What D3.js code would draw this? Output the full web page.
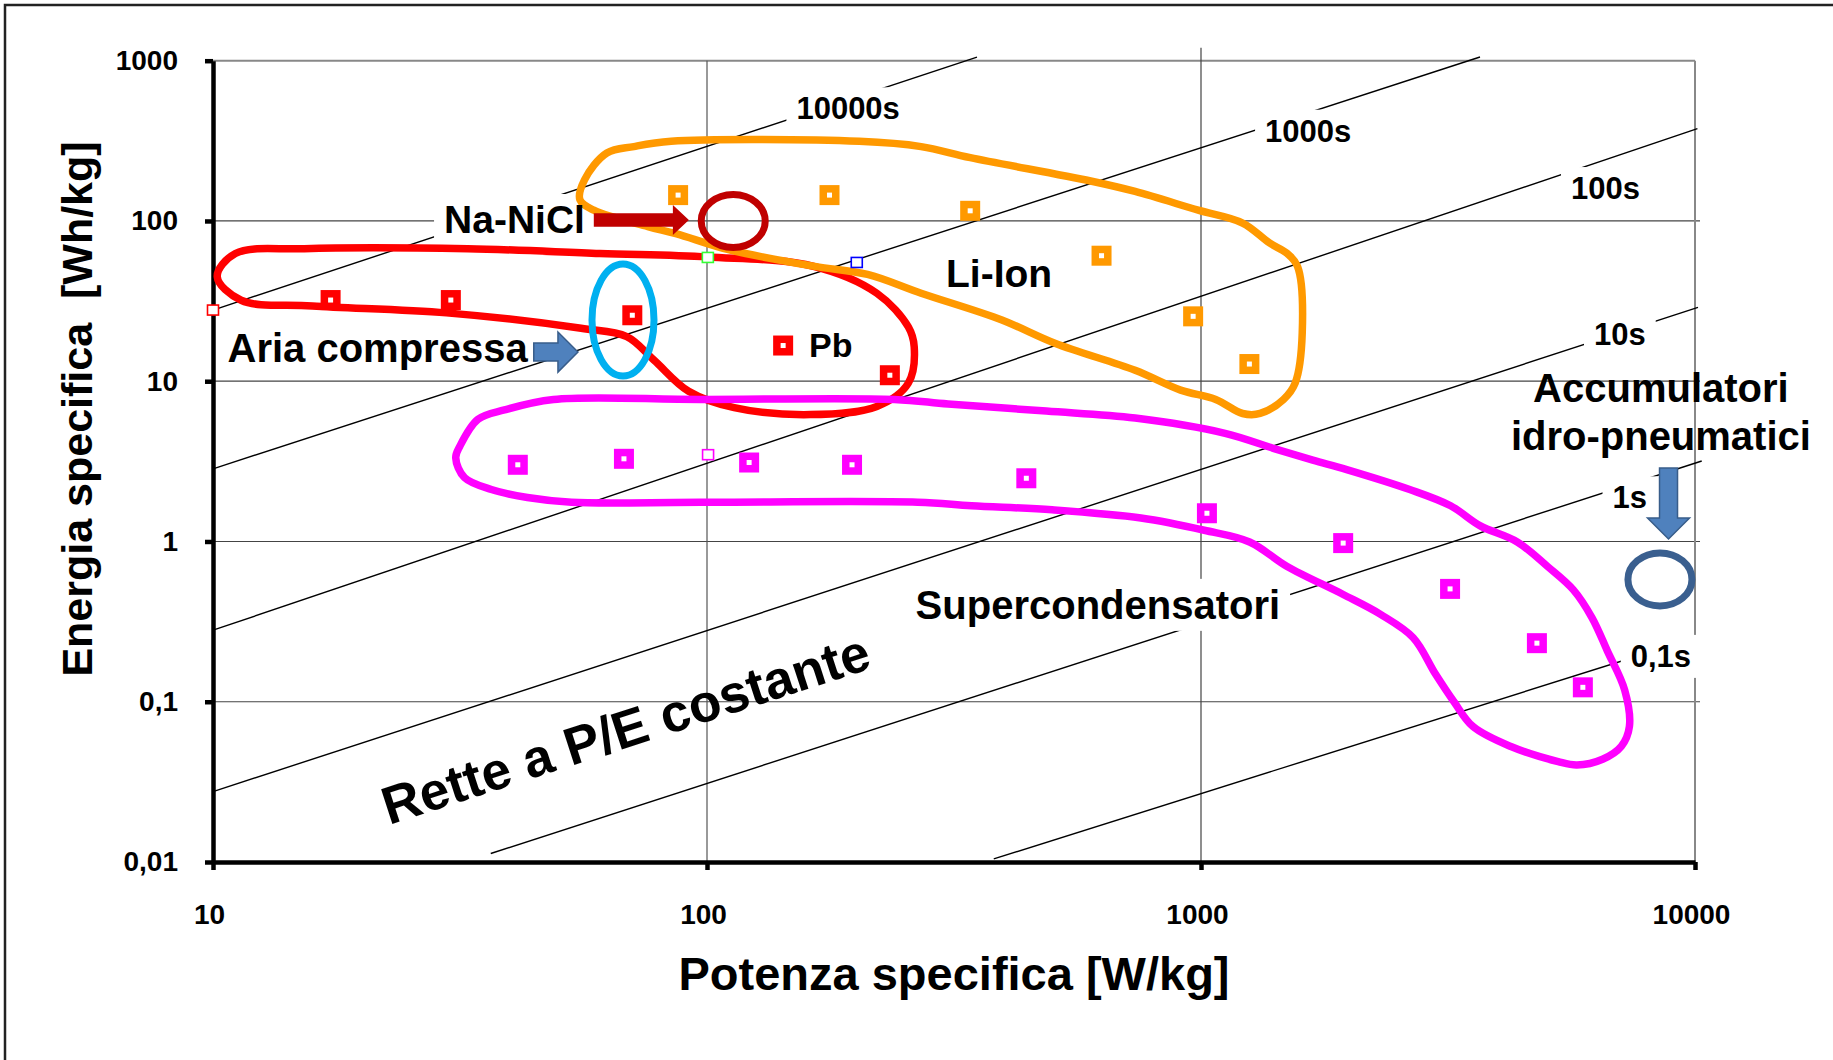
<!DOCTYPE html>
<html>
<head>
<meta charset="utf-8">
<script src="https://cdn.jsdelivr.net/npm/d3@7"></script>
<style>
  body { margin: 0; background: #fff; }
  text { font-family: "Liberation Sans", Arial, sans-serif; font-weight: bold; fill: #000; }
</style>
</head>
<body>
<script>
// ---- data (P in W/kg, E in Wh/kg) ----
const xTicks = [10, 100, 1000, 10000];
const yTicks = [0.01, 0.1, 1, 10, 100, 1000];

const pbPoints = [[17.3, 32.1], [30.3, 32.1], [70.6, 25.8], [142.6, 16.7], [234.5, 10.9]];
const liIonPoints = [[87.4, 145], [177, 145], [341, 115.7], [629, 60.7], [964, 25.4], [1253, 12.8]];
const superCapPoints = [[41.4, 3.01], [67.9, 3.28], [121.7, 3.11], [196.6, 3.01], [443, 2.48],
    [1028, 1.50], [1940, 0.977], [3193, 0.506], [4786, 0.232], [5929, 0.123]];
const hollowPoints = [[10, 27.8], [100.4, 59.2], [201, 55.1], [100.5, 3.48]];

const pbOutline = [[10.2, 44.9], [11.1, 62.7], [15.3, 67.1], [32.8, 67.1], [60.7, 62.7], [100.2, 59.6],
    [164.4, 52.1], [220.7, 35.4], [255.6, 21.8], [262.7, 16.4], [255.6, 9.73], [220.7, 6.96], [161.8, 6.19],
    [113.5, 6.84], [91.8, 8.66], [78.0, 13.6], [68.8, 19.0], [55.6, 21.4], [29.7, 26.7], [15.9, 29.5], [11.4, 32.0]];
const liIonOutline = [[55.3, 135.7], [56.5, 180.5], [62.7, 265.6], [71.1, 291.2], [84.6, 314.1], [203.4, 314],
    [271.3, 291], [341.2, 248.3], [597.8, 177.5], [735.6, 152.7], [987, 116.7], [1214, 97.0], [1376, 72.9],
    [1494, 62.7], [1568, 52.1], [1603, 20.0], [1551, 9.73], [1469, 7.70], [1317, 6.29], [1214, 6.29],
    [1071, 7.70], [909.5, 8.80], [735.6, 11.7], [507.7, 17.2], [395.3, 24.1], [271.3, 35.4], [211.3, 46.4],
    [165.3, 52.1], [111.1, 65.9], [86.5, 83.4], [75.9, 92.3], [59.0, 116.7]];
const superCapOutline = [[31.0, 3.33], [31.6, 3.93], [34.4, 5.79], [38.9, 6.62], [48.9, 7.70], [97.0, 7.70],
    [239.4, 7.70], [307.7, 7.20], [486.3, 6.51], [735.6, 5.89], [1119, 4.73], [1406, 3.80], [1684, 3.22],
    [1972, 2.81], [2645, 2.11], [3201, 1.67], [3668, 1.256], [4367, 0.993], [5030, 0.698], [5673, 0.499],
    [6189, 0.334], [6642, 0.2085], [7207, 0.1179], [7366, 0.0701], [7092, 0.0527], [6500, 0.0438],
    [5766, 0.0403], [5284, 0.0423], [4227, 0.0527], [3551, 0.0701], [3254, 0.0997], [2983, 0.149],
    [2689, 0.251], [2309, 0.351], [1940, 0.467], [1494, 0.698], [1254, 0.993], [1015, 1.175], [755.8, 1.401],
    [499.5, 1.576], [343.1, 1.67], [267.0, 1.757], [97.0, 1.757], [53.2, 1.757], [43.3, 1.88], [36.6, 2.11], [32.3, 2.50]];

// constant P/E lines: start and end points
const peLines = [
    [[10, 27.8], [352, 1054]],
    [[10, 2.84], [3671, 1054]],
    [[10, 0.2795], [10113, 377]],
    [[10, 0.0275], [10140, 28.9]],
    [[36.5, 0.0113], [10318, 3.18]],
    [[380.6, 0.01045], [10000, 0.25]]
];
const peLabels = ["10000s", "1000s", "100s", "10s", "1s", "0,1s"];
const peLabelPos = [[151.7, 430.7], [1348, 312.4], [5610, 137], [6245, 16.8], [6808, 1.61], [7413, 0.165]];

const naNiClCircle = [113, 100];
const ariaEllipse = [67.6, 24.1];
const accumEllipse = [8492, 0.58];
const naNiClArrow = [[59, 101.4], [91.9, 101.4]];
const ariaArrow = [[44.6, 15.2], [54.8, 15.2]];
const accumArrow = [[8839, 2.87], [8839, 1.036]];

const regionLabels = ["Li-Ion", "Pb", "Aria compressa"];
const regionLabelPos = [[304.7, 38.9], [160.9, 14.1], [10.7, 13.2]];

// ---- setup ----
const W = 1833, H = 1060;
const svg = d3.select("body").append("svg").attr("width", W).attr("height", H);

const x = d3.scaleLog().domain([10, 10000]).range([213, 1695]);
const y = d3.scaleLog().domain([0.01, 1000]).range([862, 60.7]);

const gFrame = svg.append("g");
const gGrid = svg.append("g");
const gLines = svg.append("g");
const gBoxes = svg.append("g");
const gAxes = svg.append("g");
const gBlobs = svg.append("g");
const gMarks = svg.append("g");
const gShapes = svg.append("g");
const gText = svg.append("g");

// outer frame (runs past the right/bottom edges)
gFrame.append("rect").attr("x", 5).attr("y", 5).attr("width", W + 100).attr("height", H + 100)
    .attr("fill", "none").attr("stroke", "#222").attr("stroke-width", 2.5);

// gridlines
[0.1, 1, 10, 100].forEach(v => {
    gGrid.append("line").attr("x1", x(10)).attr("x2", x(10000) + 5)
        .attr("y1", y(v)).attr("y2", y(v)).attr("stroke", "#444").attr("stroke-width", 1.2);
});
gGrid.append("line").attr("x1", x(10)).attr("x2", x(10000))
    .attr("y1", y(1000)).attr("y2", y(1000)).attr("stroke", "#888").attr("stroke-width", 2);
gGrid.append("line").attr("x1", x(100)).attr("x2", x(100))
    .attr("y1", y(1000)).attr("y2", y(0.01)).attr("stroke", "#555").attr("stroke-width", 1.2);
gGrid.append("line").attr("x1", x(1000)).attr("x2", x(1000))
    .attr("y1", y(1000) - 13).attr("y2", y(0.01)).attr("stroke", "#444").attr("stroke-width", 1.2);
gGrid.append("line").attr("x1", x(10000)).attr("x2", x(10000))
    .attr("y1", y(1000)).attr("y2", y(0.01)).attr("stroke", "#888").attr("stroke-width", 2);

// constant P/E lines
const seg = d3.line().x(d => x(d[0])).y(d => y(d[1]));
gLines.selectAll("path").data(peLines).join("path")
    .attr("d", seg).attr("fill", "none").attr("stroke", "#000").attr("stroke-width", 1.4);

// labels with white boxes
function label(pos, txt, size, anchor, boxed) {
    const t = gText.append("text")
        .attr("x", x(pos[0])).attr("y", y(pos[1]))
        .attr("text-anchor", anchor)
        .style("font-size", size + "px")
        .text(txt);
    if (boxed) {
        const bb = t.node().getBBox();
        gBoxes.append("rect")
            .attr("x", bb.x - 10).attr("y", bb.y - 4)
            .attr("width", bb.width + 20).attr("height", bb.height + 8)
            .attr("fill", "#fff");
    }
    return t;
}

peLabels.forEach((s, i) => label(peLabelPos[i], s, 31, "start", true));
label([264.4, 0.329], "Supercondensatori", 40, "start", true);
label([56.6, 84.1], "Na-NiCl", 39, "end", true);
label(regionLabelPos[0], regionLabels[0], 39, "start", false);
label(regionLabelPos[1], regionLabels[1], 34, "start", false);
label(regionLabelPos[2], regionLabels[2], 40, "start", false);

const acc = gText.append("text").attr("x", x(8531)).attr("y", y(7.45))
    .attr("text-anchor", "middle").style("font-size", "40px");
acc.append("tspan").attr("x", x(8531)).text("Accumulatori");
acc.append("tspan").attr("x", x(8531)).attr("dy", 48).text("idro-pneumatici");

gText.append("text")
    .attr("transform", `translate(${x(22.7)},${y(0.0170)}) rotate(-18)`)
    .style("font-size", "53px")
    .text("Rette a P/E costante");

// axes
const fmt = d => String(d).replace(".", ",");
const yAxis = gAxes.append("g").attr("transform", `translate(${x(10)},0)`)
    .call(d3.axisLeft(y).tickValues(yTicks).tickFormat(fmt).tickSize(8).tickSizeOuter(0).tickPadding(27));
const xAxis = gAxes.append("g").attr("transform", `translate(0,${y(0.01)})`)
    .call(d3.axisBottom(x).tickValues(xTicks).tickFormat(fmt).tickSize(8).tickSizeOuter(0).tickPadding(34));
[yAxis, xAxis].forEach(a => {
    a.select(".domain").attr("stroke", "#000").attr("stroke-width", 4.5);
    a.selectAll(".tick line").attr("stroke", "#000").attr("stroke-width", 4.5);
    a.selectAll(".tick text").style("font-size", "28px")
        .style("font-family", "'Liberation Sans', Arial, sans-serif").style("font-weight", "bold");
});
xAxis.selectAll(".tick text").attr("dx", -4);

// axis titles
gText.append("text").attr("x", 954).attr("y", 990).attr("text-anchor", "middle")
    .style("font-size", "47px").text("Potenza specifica [W/kg]");
gText.append("text").attr("transform", "translate(91.5,409) rotate(-90)").attr("text-anchor", "middle")
    .style("font-size", "43px").text("Energia specifica \u00a0[Wh/kg]");

// outlines
const blob = d3.line().x(d => x(d[0])).y(d => y(d[1])).curve(d3.curveCatmullRomClosed.alpha(0.5));
const outlines = [pbOutline, liIonOutline, superCapOutline];
const outlineColors = ["#ff0000", "#ff9900", "#ff00ff"];
gBlobs.selectAll("path").data(outlines).join("path")
    .attr("d", blob).attr("fill", "none")
    .attr("stroke", (d, i) => outlineColors[i]).attr("stroke-width", 7.5);

// markers
const series = [pbPoints, liIonPoints, superCapPoints];
series.forEach((pts, i) => {
    const g = gMarks.append("g");
    g.selectAll("rect.o").data(pts).join("rect").attr("class", "o")
        .attr("x", d => x(d[0]) - 10).attr("y", d => y(d[1]) - 10)
        .attr("width", 20).attr("height", 20).attr("fill", outlineColors[i]);
    g.selectAll("rect.i").data(pts).join("rect").attr("class", "i")
        .attr("x", d => x(d[0]) - 2.5).attr("y", d => y(d[1]) - 2.5)
        .attr("width", 5).attr("height", 5).attr("fill", "#fff");
});
const hollowColors = ["#ff0000", "#33ff33", "#0000ff", "#ff00ff"];
gMarks.selectAll("rect.h").data(hollowPoints).join("rect").attr("class", "h")
    .attr("x", d => x(d[0]) - 5.5).attr("y", d => y(d[1]) - 5)
    .attr("width", 11).attr("height", 10).attr("fill", "#fff")
    .attr("stroke", (d, i) => hollowColors[i]).attr("stroke-width", 1.6);

// ellipses
function ellipse(c, rx, ry, color) {
    gShapes.append("ellipse").attr("cx", x(c[0])).attr("cy", y(c[1]))
        .attr("rx", rx).attr("ry", ry).attr("fill", "none")
        .attr("stroke", color).attr("stroke-width", 7);
}
ellipse(naNiClCircle, 32, 26.5, "#c00000");
ellipse(ariaEllipse, 31, 56, "#00b0f0");
ellipse(accumEllipse, 32, 26.5, "#3a5f8f");

// block arrows
function blockArrow(a, shaftHalf, headHalf, headLen, fill, stroke) {
    const x1 = x(a[0][0]), y1 = y(a[0][1]), x2 = x(a[1][0]), y2 = y(a[1][1]);
    const len = Math.hypot(x2 - x1, y2 - y1);
    const ang = Math.atan2(y2 - y1, x2 - x1) * 180 / Math.PI;
    const pts = [[0, -shaftHalf], [len - headLen, -shaftHalf], [len - headLen, -headHalf], [len, 0],
        [len - headLen, headHalf], [len - headLen, shaftHalf], [0, shaftHalf]];
    gShapes.append("polygon")
        .attr("points", pts.map(p => p.join(",")).join(" "))
        .attr("transform", `translate(${x1},${y1}) rotate(${ang})`)
        .attr("fill", fill).attr("stroke", stroke).attr("stroke-width", 1.5);
}
blockArrow(naNiClArrow, 6.7, 15, 16, "#c00000", "none");
blockArrow(ariaArrow, 9, 20, 20, "#4f81bd", "#385d8a");
blockArrow(accumArrow, 9, 21, 21, "#4f81bd", "#385d8a");
</script>
</body>
</html>
